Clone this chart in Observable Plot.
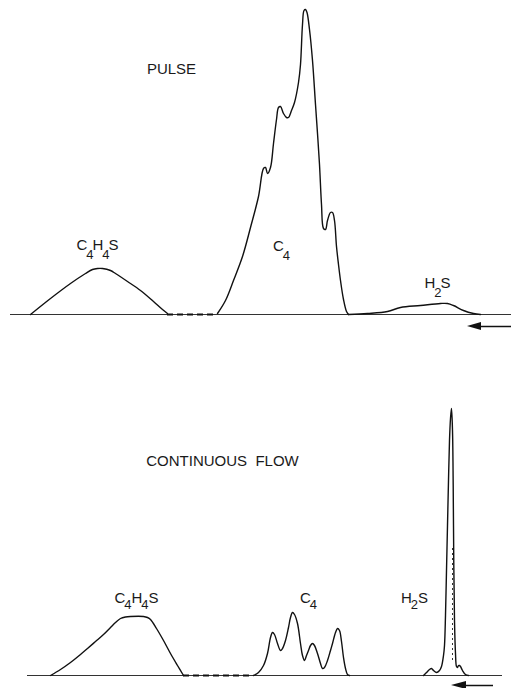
<!DOCTYPE html>
<html><head><meta charset="utf-8">
<script src="https://cdn.jsdelivr.net/npm/d3@7"></script>
<script src="https://cdn.jsdelivr.net/npm/@observablehq/plot@0.6"></script>
<style>body{margin:0;background:#fff}#c svg{display:block}</style>
</head><body><div id="c"></div>
<script>
// ---- PULSE panel (x = retention position, y = detector signal) ----
const pulseC4H4S = [[30,0],[50,16],[70,31],[85,41],[92,45],[97,46],[102,46],[110,44],[115,41],[127,33],[140,24],[153,13],[162,5],[167,1]];
const pulseC4 = [[217,1],[225,14],[233,34],[242,58],[250,87],[258,118],[263,146],[265,147],[267,141],[270,147],[273,171],[276,195],[278,207],[280,208],[283,201],[286,197],[288,197],[291,204],[294,212],[298,232],[300,250],[302,290],[303.5,304],[305,305],[306.5,302],[309,285],[312,254],[315,210],[317,181],[319,150],[321,110],[323,86],[325,85],[327,94],[330,102],[332,102],[334,94],[336,68],[338,50],[340,34],[343,15],[346,3],[348,0]];
const pulseH2S = [[348,0],[367,1],[387,3],[400,7],[420,9],[440,11],[447,11],[453,9],[463,4],[473,1],[480,0]];
const pulseBase = [10, 511];
const pulseDash = [167, 217];
const pulseArrow = {tip: 467, head: 481, end: 511, y: -12, half: 4};
const pulseTitle = [{x: 171, y: 245, t: "PULSE"}];
const pulseLabels = [
  {x: 97, y: 69, t: "C₄H₄S"},
  {x: 281, y: 68, t: "C₄"},
  {x: 437, y: 31, t: "H₂S"}
];

// ---- CONTINUOUS FLOW panel ----
const flowC4H4S = [[50,0],[60,6],[70,13],[80,21],[87,27],[95,34],[103,41],[110,48],[115,53],[120,57],[125,58.5],[130,59],[143,59],[147,58],[150,56],[156,47],[163,35],[170,22],[177,10],[183,0]];
const flowC4 = [[253,0],[258,3],[263,10],[267,22],[270,38],[272,43],[274,41],[277,32],[280,25],[282,27],[285,35],[288,48],[290,58],[292,63],[294,61],[297,52],[300,32],[302,20],[304,15],[306,20],[308,25],[310,30],[312,32],[314,30],[317,22],[320,12],[322,7],[324,8],[327,15],[330,25],[332,32],[335,43],[337,47],[339,45],[341,34],[343,18],[345,7],[347,1],[349,0]];
const flowH2S = [[423,0],[426,3],[429,6],[431,7],[433,5],[436,3],[439,5],[441,9],[443,20],[444,30],[445,60],[446,105],[447,150],[448,195],[449,235],[450,257],[451,267],[452,245],[452.7,190],[453.3,110],[454,55],[455,22],[456,9],[457,8],[458,10],[459,10],[460,9],[462,5],[465,1],[468,0]];
const flowBase = [27, 502];
const flowDash = [183, 253];
const flowDotted = {x: 452, y1: 15, y2: 128};
const flowArrow = {tip: 451, head: 466, end: 493, y: -10, half: 4};
const flowTitle = [{x: 222, y: 214, t: "CONTINUOUS\u00a0\u00a0FLOW"}];
const flowLabels = [
  {x: 136, y: 77, t: "C₄H₄S"},
  {x: 308, y: 77, t: "C₄"},
  {x: 414, y: 77, t: "H₂S"}
];

const toPts = (arr) => arr.map(([x, y]) => ({x, y}));
const font = "Liberation Sans, Arial, sans-serif";
const SVGNS = "http://www.w3.org/2000/svg";

// turn unicode subscript digits into real lowered tspans
function subscriptify(svg, sub) {
  svg.querySelectorAll("text").forEach(t => {
    const s = t.textContent;
    if (!/[\u2080-\u2089]/.test(s)) return;
    t.textContent = "";
    let lowered = false;
    for (const ch of s) {
      const code = ch.codePointAt(0);
      const ts = document.createElementNS(SVGNS, "tspan");
      if (code >= 0x2080 && code <= 0x2089) {
        ts.textContent = String.fromCharCode(48 + code - 0x2080);
        ts.setAttribute("dy", sub.dy);
        ts.setAttribute("dx", sub.dxBefore);
        ts.setAttribute("font-size", sub.size);
        lowered = true;
      } else {
        ts.textContent = ch;
        if (lowered) {
          ts.setAttribute("dy", -sub.dy);
          ts.setAttribute("dx", sub.dxAfter);
          lowered = false;
        }
      }
      t.append(ts);
    }
  });
}

function panel({height, yDomain, peaks, base, dash, arrow, title, labels, dotted, sub}) {
  const wedge = [
    {x: arrow.tip, y1: arrow.y, y2: arrow.y},
    {x: arrow.head, y1: arrow.y - arrow.half, y2: arrow.y + arrow.half}
  ];
  const marks = [
    Plot.ruleY([0], {x1: base[0], x2: base[1], stroke: "#333", strokeWidth: 1}),
    Plot.ruleY([0], {x1: dash[0], x2: dash[1], stroke: "#111", strokeWidth: 2.2, strokeDasharray: "6,4"}),
    ...peaks.map(p => Plot.line(toPts(p), {x: "x", y: "y", curve: "catmull-rom", stroke: "#111", strokeWidth: 1.4})),
    Plot.areaY(wedge, {x: "x", y1: "y1", y2: "y2", fill: "#111"}),
    Plot.ruleY([arrow.y], {x1: arrow.head, x2: arrow.end, stroke: "#111", strokeWidth: 1.5}),
    Plot.text(title, {x: "x", y: "y", text: "t", fontSize: 15, fontFamily: font, fill: "#1a1a1a", style: "letter-spacing:2.6px"}),
    Plot.text(labels, {x: "x", y: "y", text: "t", fontSize: 15, fontFamily: font, fill: "#1a1a1a", style: "letter-spacing:1px"})
  ];
  if (dotted) marks.push(Plot.ruleX([dotted.x], {y1: dotted.y1, y2: dotted.y2, stroke: "#333", strokeWidth: 1, strokeDasharray: "2,3"}));
  const svg = Plot.plot({
    width: 511, height,
    margin: 0,
    x: {domain: [0, 511], axis: null},
    y: {domain: yDomain, axis: null},
    style: {background: "#fff", fontFamily: font},
    marks
  });
  subscriptify(svg, sub);
  return svg;
}

const pulsePanel = panel({height: 340, yDomain: [-26, 314], peaks: [pulseC4H4S, pulseC4, pulseH2S], base: pulseBase, dash: pulseDash, arrow: pulseArrow, title: pulseTitle, labels: pulseLabels, dotted: null, sub: {dy: 9, dxBefore: -1, dxAfter: -1, size: 13}});
const flowPanel = panel({height: 348, yDomain: [-13, 335], peaks: [flowC4H4S, flowC4, flowH2S], base: flowBase, dash: flowDash, arrow: flowArrow, title: flowTitle, labels: flowLabels, dotted: flowDotted, sub: {dy: 6, dxBefore: -1, dxAfter: 0, size: 13}});
document.getElementById("c").append(pulsePanel, flowPanel);
</script>
</body></html>
